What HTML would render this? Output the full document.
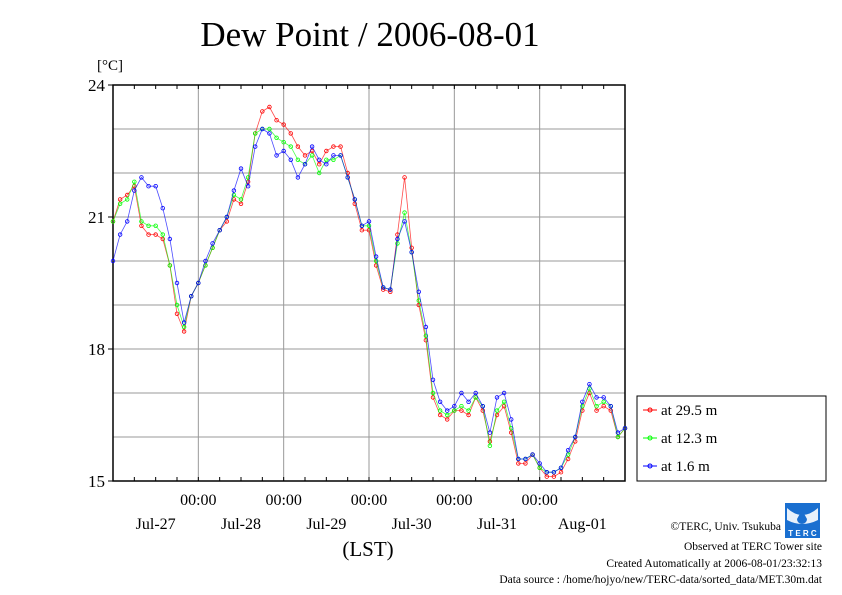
<!DOCTYPE html>
<html><head><meta charset="utf-8">
<style>
body{margin:0;background:#fff;}
svg{display:block;font-family:"Liberation Serif",serif;}
</style></head>
<body>
<svg id="chart" width="842" height="595" viewBox="0 0 842 595">
<text x="370" y="46" font-size="35" text-anchor="middle">Dew Point / 2006-08-01</text>
<text x="97" y="70" font-size="15">[°C]</text>
<g id="grid"></g>
<g id="axes"></g>
<g id="series"></g>
<text x="368" y="556" font-size="21" text-anchor="middle">(LST)</text>
<g>
<rect x="637" y="396" width="189" height="85" fill="#fff" stroke="#000" stroke-width="1"/>
<g><line x1="643" y1="410" x2="657" y2="410" stroke="#f00"/><circle cx="650" cy="410" r="2" fill="none" stroke="#f00"/><text x="661" y="415" font-size="15">at 29.5 m</text></g>
<g><line x1="643" y1="438" x2="657" y2="438" stroke="#0f0"/><circle cx="650" cy="438" r="2" fill="none" stroke="#0f0"/><text x="661" y="443" font-size="15">at 12.3 m</text></g>
<g><line x1="643" y1="466" x2="657" y2="466" stroke="#00f"/><circle cx="650" cy="466" r="2" fill="none" stroke="#00f"/><text x="661" y="471" font-size="15">at 1.6 m</text></g>
</g>
<g>
<rect x="785" y="503" width="35" height="35" fill="#1a6fd0"/>
<path d="M787 508 Q802 522 818 508 L818 520 Q802 528 787 520 Z" fill="#fff" opacity="0.9"/>
<path d="M802 510 L797 519 A5 5 0 0 0 807 519 Z" fill="#1a6fd0"/>
<text x="802.5" y="536" font-size="8" fill="#fff" text-anchor="middle" font-family="Liberation Sans, sans-serif" font-weight="bold">T E R C</text>
</g>
<g font-size="11.5" text-anchor="end">
<text x="781" y="530">©TERC, Univ. Tsukuba</text>
<text x="822" y="550">Observed at TERC Tower site</text>
<text x="822" y="567">Created Automatically at 2006-08-01/23:32:13</text>
<text x="822" y="583">Data source : /home/hojyo/new/TERC-data/sorted_data/MET.30m.dat</text>
</g>
</svg>
<script>
const dayLabels=["Jul-27","Jul-28","Jul-29","Jul-30","Jul-31","Aug-01"];
const yTicks=[15,18,21,24];
const series1=[20.9,21.4,21.5,21.7,20.8,20.6,20.6,20.5,19.9,18.8,18.4,19.2,19.5,19.9,20.3,20.7,20.9,21.4,21.3,21.8,22.9,23.4,23.5,23.2,23.1,22.9,22.6,22.4,22.5,22.2,22.5,22.6,22.6,22.0,21.3,20.7,20.7,19.9,19.35,19.3,20.6,21.9,20.3,19.0,18.2,16.9,16.5,16.4,16.6,16.6,16.5,16.9,16.6,15.9,16.5,16.7,16.1,15.4,15.4,15.6,15.3,15.1,15.1,15.2,15.5,15.9,16.6,17.0,16.6,16.7,16.6,16.0,16.2];
const series2=[20.9,21.3,21.4,21.8,20.9,20.8,20.8,20.6,19.9,19.0,18.5,19.2,19.5,19.9,20.3,20.7,21.0,21.5,21.4,21.9,22.9,23.0,23.0,22.8,22.7,22.6,22.3,22.2,22.4,22.0,22.3,22.3,22.4,21.9,21.4,20.8,20.8,20.0,19.4,19.35,20.4,21.1,20.2,19.1,18.3,17.0,16.6,16.5,16.6,16.7,16.6,16.9,16.7,15.8,16.6,16.8,16.2,15.5,15.5,15.6,15.3,15.2,15.2,15.3,15.6,16.0,16.7,17.1,16.7,16.8,16.7,16.0,16.2];
const series3=[20.0,20.6,20.9,21.6,21.9,21.7,21.7,21.2,20.5,19.5,18.6,19.2,19.5,20.0,20.4,20.7,21.0,21.6,22.1,21.7,22.6,23.0,22.9,22.4,22.5,22.3,21.9,22.2,22.6,22.3,22.2,22.4,22.4,21.9,21.4,20.8,20.9,20.1,19.4,19.35,20.5,20.9,20.2,19.3,18.5,17.3,16.8,16.6,16.7,17.0,16.8,17.0,16.7,16.1,16.9,17.0,16.4,15.5,15.5,15.6,15.4,15.2,15.2,15.3,15.7,16.0,16.8,17.2,16.9,16.9,16.7,16.1,16.2];
const X0=113,X1=625,Y0=85,Y1=481,ymin=15,ymax=24,hours=144;
const xh=h=>X0+(X1-X0)*h/hours;
const yv=v=>Y1-(v-ymin)/(ymax-ymin)*(Y1-Y0);
const NS="http://www.w3.org/2000/svg";
function mk(tag,at,parent){const e=document.createElementNS(NS,tag);for(const k in at)e.setAttribute(k,at[k]);parent.appendChild(e);return e;}
const grid=document.getElementById('grid'),axes=document.getElementById('axes'),ser=document.getElementById('series');
for(let v=16;v<24;v+=1){
 const l=mk('line',{x1:X0,x2:X1,y1:yv(v),y2:yv(v),stroke:'#999','stroke-width':1},grid);
 }
for(let d=1;d<6;d++){const l=mk('line',{x1:xh(d*24),x2:xh(d*24),y1:Y0,y2:Y1,stroke:'#999','stroke-width':1},grid);
 }
const fr=mk('rect',{x:X0,y:Y0,width:X1-X0,height:Y1-Y0,fill:'none',stroke:'#000','stroke-width':1.5},axes);

for(let h=6;h<hours;h+=6){mk('line',{x1:xh(h),x2:xh(h),y1:Y0,y2:Y0+4,stroke:'#000'},axes);mk('line',{x1:xh(h),x2:xh(h),y1:Y1,y2:Y1-4,stroke:'#000'},axes);}
yTicks.forEach(v=>{mk('line',{x1:X0-5,x2:X0,y1:yv(v),y2:yv(v),stroke:'#000'},axes);
 const t=mk('text',{x:X0-8,y:yv(v)+6,'font-size':17,'text-anchor':'end'},axes);t.textContent=v;
 });
dayLabels.forEach((lab,i)=>{
 if(i<5){const x=xh((i+1)*24);
 const t=mk('text',{x:x,y:505,'font-size':16,'text-anchor':'middle'},axes);t.textContent='00:00';
 }
 const d=mk('text',{x:xh(i*24+12),y:529,'font-size':16,'text-anchor':'middle'},axes);d.textContent=lab;
 });
[[series1,'#f00','series-29.5m'],[series2,'#0f0','series-12.3m'],[series3,'#00f','series-1.6m']].forEach(([s,c,n])=>{
 const g=mk('g',{},ser);
 const step=hours/(s.length-1);
 const pts=s.map((v,i)=>xh(i*step).toFixed(1)+','+yv(v).toFixed(1)).join(' ');
 const pl=mk('polyline',{points:pts,fill:'none',stroke:c,'stroke-width':0.8,'stroke-opacity':0.7},g);
 
 s.forEach((v,i)=>{const p=mk('circle',{cx:xh(i*step),cy:yv(v),r:1.8,fill:'none',stroke:c,'stroke-width':0.8},g);
  });
});
</script>
</body></html>
